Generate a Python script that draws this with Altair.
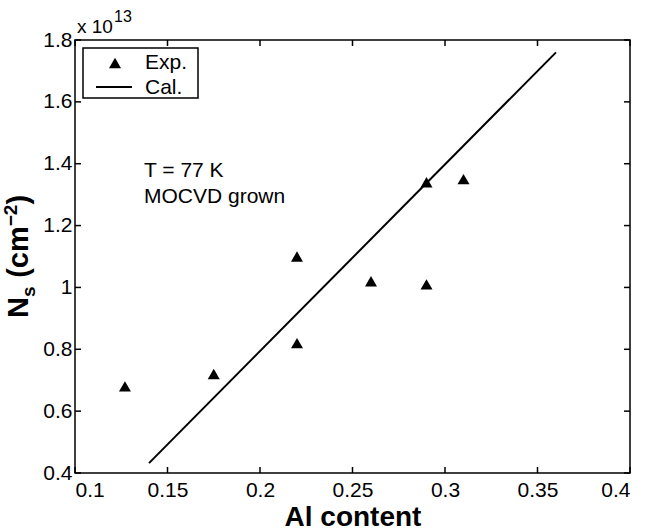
import altair as alt
import pandas as pd

# Measured sheet carrier density (units of 1e13 cm^-2) vs. Al mole fraction
al_exp = [0.127, 0.175, 0.22, 0.22, 0.26, 0.29, 0.29, 0.31]
ns_exp = [0.68, 0.72, 0.82, 1.10, 1.02, 1.01, 1.34, 1.35]

# Calculated dependence (straight line)
al_cal = [0.14, 0.36]
ns_cal = [0.432, 1.76]

x_ticks = [0.1, 0.15, 0.2, 0.25, 0.3, 0.35, 0.4]
y_ticks = [0.4, 0.6, 0.8, 1.0, 1.2, 1.4, 1.6, 1.8]

legend_labels = ["Exp.", "Cal."]
note_lines = ["T = 77 K", "MOCVD grown"]
x_title = "Al content"
exponent = ["x 10", "13"]
y_title_parts = ["N", "s", "(cm", "\u22122", ")"]

W, H = 555, 433
FONT = "Liberation Sans"

xs = alt.Scale(domain=[0.1, 0.4], nice=False, zero=False)
ys = alt.Scale(domain=[0.4, 1.8], nice=False, zero=False)

exp_df = pd.DataFrame({"al": al_exp, "ns": ns_exp})
cal_df = pd.DataFrame({"al": al_cal, "ns": ns_cal})
xt_df = pd.DataFrame({"t": x_ticks})
yt_df = pd.DataFrame({"t": y_ticks})
one = pd.DataFrame({"k": [0]})

x_axis = alt.Axis(
    values=x_ticks, format="~g", ticks=False, domain=False, grid=False,
    labelFont=FONT, labelFontSize=21, labelColor="black", labelPadding=6,
    title=x_title, titleFont=FONT, titleFontSize=28, titleFontWeight="bold",
    titleColor="black", titlePadding=3,
)
y_axis = alt.Axis(
    values=y_ticks, format="~g", ticks=False, domain=False, grid=False,
    labelFont=FONT, labelFontSize=21, labelColor="black", labelPadding=3,
    title=None,
)

points = alt.Chart(exp_df).mark_point(
    shape="triangle-up", filled=True, size=144, color="black", opacity=1
).encode(
    x=alt.X("al:Q", scale=xs, axis=x_axis),
    y=alt.Y("ns:Q", scale=ys, axis=y_axis),
)

line = alt.Chart(cal_df).mark_line(color="black", strokeWidth=2).encode(
    x=alt.X("al:Q", scale=xs),
    y=alt.Y("ns:Q", scale=ys),
)

# Inward ticks on all four sides of the box
tick_style = dict(color="black", strokeWidth=1.5)
bottom_ticks = alt.Chart(xt_df).mark_rule(**tick_style).encode(
    x=alt.X("t:Q", scale=xs), y=alt.value(H), y2=alt.value(H - 6))
top_ticks = alt.Chart(xt_df).mark_rule(**tick_style).encode(
    x=alt.X("t:Q", scale=xs), y=alt.value(0), y2=alt.value(6))
left_ticks = alt.Chart(yt_df).mark_rule(**tick_style).encode(
    y=alt.Y("t:Q", scale=ys), x=alt.value(0), x2=alt.value(6))
right_ticks = alt.Chart(yt_df).mark_rule(**tick_style).encode(
    y=alt.Y("t:Q", scale=ys), x=alt.value(W), x2=alt.value(W - 6))

# Legend box
leg_box = alt.Chart(one).mark_rect(
    fill="white", stroke="black", strokeWidth=1.5
).encode(x=alt.value(8), x2=alt.value(123), y=alt.value(8), y2=alt.value(58))
leg_sym = alt.Chart(one).mark_point(
    shape="triangle-up", filled=True, size=144, color="black", opacity=1
).encode(x=alt.value(40), y=alt.value(23))
leg_line = alt.Chart(one).mark_rule(color="black", strokeWidth=2).encode(
    x=alt.value(21), x2=alt.value(57), y=alt.value(47))
txt = dict(font=FONT, fontSize=21, color="black", align="left", baseline="middle")
leg_t1 = alt.Chart(one).mark_text(text=legend_labels[0], **txt).encode(
    x=alt.value(70), y=alt.value(23))
leg_t2 = alt.Chart(one).mark_text(text=legend_labels[1], **txt).encode(
    x=alt.value(70), y=alt.value(48))

# Annotation
note_style = dict(font=FONT, fontSize=21, color="black", align="left", baseline="alphabetic")
note1 = alt.Chart(one).mark_text(text=note_lines[0], **note_style).encode(
    x=alt.value(69), y=alt.value(137))
note2 = alt.Chart(one).mark_text(text=note_lines[1], **note_style).encode(
    x=alt.value(69), y=alt.value(163))

# Axis multiplier above the box
exp1 = alt.Chart(one).mark_text(text=exponent[0], font=FONT, fontSize=19, color="black",
                                align="left", baseline="alphabetic").encode(
    x=alt.value(2), y=alt.value(-7))
exp2 = alt.Chart(one).mark_text(text=exponent[1], font=FONT, fontSize=16, color="black",
                                align="left", baseline="alphabetic").encode(
    x=alt.value(39), y=alt.value(-18))

# Rotated y title built from pieces so the subscript and superscript sit right
F, FS = 29, 19
x0, y0 = -47, 278
w_N = 0.722 * F
w_s = 0.556 * FS
w_cm = (0.333 + 0.556 + 0.889) * F
w_sp = 0.3 * F
w_m2 = (0.584 + 0.556) * FS
title_pos = [
    (y_title_parts[0], F, x0, y0),
    (y_title_parts[1], FS, x0 + 7, y0 - w_N),
    (y_title_parts[2], F, x0, y0 - w_N - w_s - w_sp),
    (y_title_parts[3], FS, x0 - 11, y0 - w_N - w_s - w_sp - w_cm),
    (y_title_parts[4], F, x0, y0 - w_N - w_s - w_sp - w_cm - w_m2),
]
y_title_layers = [
    alt.Chart(one).mark_text(text=t, font=FONT, fontSize=s, fontWeight="bold",
                             color="black", angle=270, align="left",
                             baseline="alphabetic").encode(
        x=alt.value(px), y=alt.value(py))
    for t, s, px, py in title_pos
]

chart = alt.layer(
    line, points,
    bottom_ticks, top_ticks, left_ticks, right_ticks,
    leg_box, leg_sym, leg_line, leg_t1, leg_t2,
    note1, note2, exp1, exp2,
    *y_title_layers,
).properties(
    width=W, height=H,
    padding={"left": 75, "top": 40, "right": 17, "bottom": 58},
    autosize=alt.AutoSizeParams(type="none"),
    background="white",
).configure_view(stroke="black", strokeWidth=1.5)

chart.save("out.html", embed_options={"renderer": "svg", "actions": False})
